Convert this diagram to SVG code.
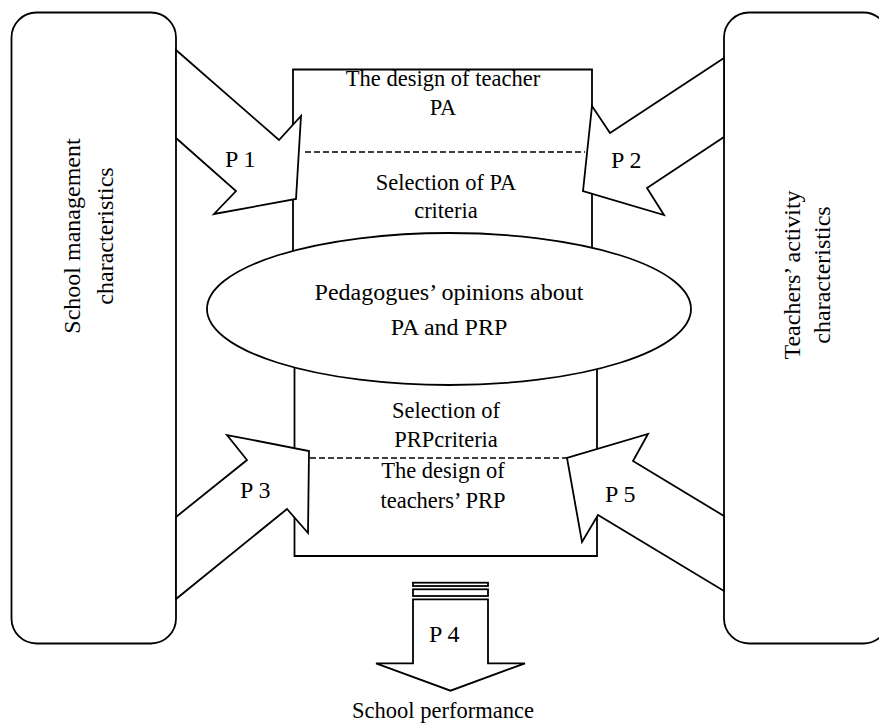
<svg xmlns="http://www.w3.org/2000/svg" width="879" height="728" viewBox="0 0 879 728">
  <style>
    .ln { fill: #fff; stroke: #000; stroke-width: 1.8; stroke-linejoin: miter; }
    .open { fill: none; stroke: #000; stroke-width: 1.8; }
    .dash { fill: none; stroke: #000; stroke-width: 1.5; stroke-dasharray: 6 3; }
    text { font-family: "Liberation Serif", "Times New Roman", serif; fill: #000; }
    .t { font-size: 22.5px; text-anchor: middle; }
    .side { font-size: 24px; text-anchor: middle; }
    .big { font-size: 24px; text-anchor: middle; }
    .lbl { font-size: 24px; }
  </style>

  <rect width="879" height="728" fill="#fff"/>

  <!-- side boxes -->
  <g id="school-management">
    <rect class="ln" x="11.5" y="12.5" width="164.5" height="631" rx="25" ry="25"/>
    <text class="side" transform="translate(80,236) rotate(-90)">School management</text>
    <text class="side" transform="translate(113,236) rotate(-90)">characteristics</text>
  </g>

  <g id="teachers-activity">
    <rect class="ln" x="724" y="12.5" width="164.5" height="631" rx="25" ry="25"/>
    <text class="side" transform="translate(800,275) rotate(-90)">Teachers’ activity</text>
    <text class="side" transform="translate(830,275) rotate(-90)">characteristics</text>
  </g>

  <!-- upper block: performance appraisal -->
  <g id="pa-block">
    <path class="open" d="M293,300 V69.5 H592 V300"/>
    <text class="t" x="443" y="86">The design of teacher</text>
    <text class="t" x="443" y="115">PA</text>
    <text class="t" x="446" y="190">Selection of PA</text>
    <text class="t" x="446" y="218">criteria</text>
  </g>

  <!-- lower block: performance related pay -->
  <g id="prp-block">
    <path class="open" d="M294.5,340 V556 H597 V340"/>
    <text class="t" x="446" y="418">Selection of</text>
    <text class="t" x="446" y="447">PRPcriteria</text>
    <text class="t" x="443" y="478">The design of</text>
    <text class="t" x="443" y="508">teachers’ PRP</text>
  </g>

  <!-- central ellipse -->
  <g id="opinions">
    <ellipse class="ln" cx="449" cy="309" rx="242" ry="76"/>
    <text class="big" x="449" y="300">Pedagogues’ opinions about</text>
    <text class="big" x="449" y="335">PA and PRP</text>
  </g>

  <!-- block arrows P1..P5 -->
  <g id="connectors">
    <g id="p1">
      <polygon class="ln" points="176,50 279,140 301,116 296,199 214,214 236,191 176,138"/>
      <text class="lbl" x="225" y="167">P 1</text>
    </g>
    <g id="p2">
      <polygon class="ln" points="724,58 610,133 592,106 583,191 664,215 647,188 724,137"/>
      <text class="lbl" x="611" y="168">P 2</text>
    </g>
    <g id="p3">
      <polygon class="ln" points="176,517 247,460 227,435 309,451 308,533 287,509 176,599"/>
      <text class="lbl" x="240" y="498">P 3</text>
    </g>
    <g id="p5">
      <polygon class="ln" points="724,516 633,461 648,434 567,458 582,542 598,515 724,591"/>
      <text class="lbl" x="605" y="502">P 5</text>
    </g>
    <g id="p4">
      <rect class="ln" x="413" y="582.7" width="75" height="3.3"/>
      <rect class="ln" x="413" y="589.3" width="75" height="6.7"/>
      <polygon class="ln" points="413,599.3 488,599.3 488,663.3 525,663.3 450.5,690.7 376,663.3 413,663.3"/>
      <text class="lbl" x="429" y="642">P 4</text>
    </g>
    <path class="dash" d="M305,152 H585"/>
    <path class="dash" d="M310,458 H567"/>
  </g>

  <g id="school-performance">
    <text class="t" x="443" y="718">School performance</text>
  </g>
</svg>
